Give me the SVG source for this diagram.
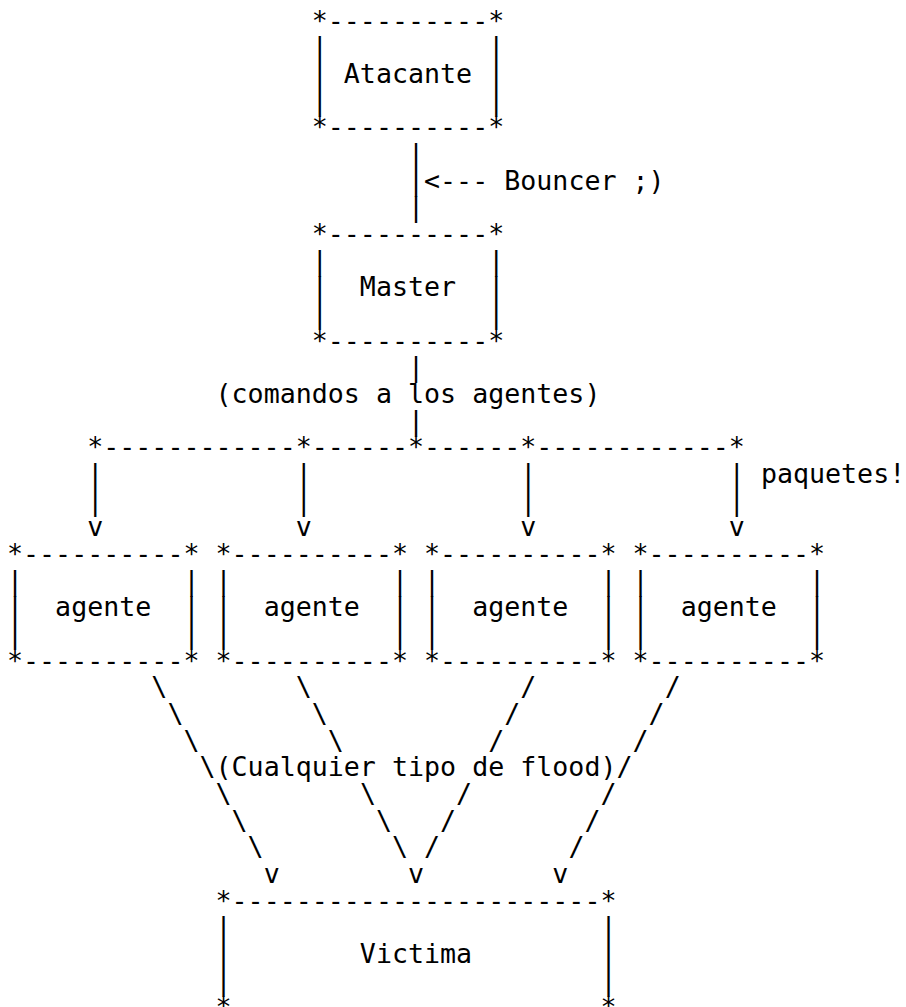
<svg xmlns="http://www.w3.org/2000/svg" width="906" height="1007" viewBox="0 0 906 1007" xml:space="preserve">
<style>
text { font-family: "DejaVu Sans Mono", "Liberation Mono", monospace; font-size: 26.65px; fill: #000; white-space: pre; }
</style>
<rect x="0" y="0" width="906" height="1007" fill="#fff"/>
<g id="atacante">
<text x="311.76" y="29.67">*----------*</text>
<text x="311.76" y="56.34">|          |</text>
<text x="311.76" y="83.01">| Atacante |</text>
<text x="311.76" y="109.68">|          |</text>
<text x="311.76" y="136.35">*----------*</text>
</g>
<g id="master">
<text x="311.76" y="243.03">*----------*</text>
<text x="311.76" y="269.7">|          |</text>
<text x="311.76" y="296.37">|  Master  |</text>
<text x="311.76" y="323.04">|          |</text>
<text x="311.76" y="349.71">*----------*</text>
</g>
<g id="agente1">
<text x="7" y="563.07">*----------*</text>
<text x="7" y="589.74">|          |</text>
<text x="7" y="616.41">|  agente  |</text>
<text x="7" y="643.08">|          |</text>
<text x="7" y="669.75">*----------*</text>
</g>
<g id="agente2">
<text x="215.52" y="563.07">*----------*</text>
<text x="215.52" y="589.74">|          |</text>
<text x="215.52" y="616.41">|  agente  |</text>
<text x="215.52" y="643.08">|          |</text>
<text x="215.52" y="669.75">*----------*</text>
</g>
<g id="agente3">
<text x="424.04" y="563.07">*----------*</text>
<text x="424.04" y="589.74">|          |</text>
<text x="424.04" y="616.41">|  agente  |</text>
<text x="424.04" y="643.08">|          |</text>
<text x="424.04" y="669.75">*----------*</text>
</g>
<g id="agente4">
<text x="632.56" y="563.07">*----------*</text>
<text x="632.56" y="589.74">|          |</text>
<text x="632.56" y="616.41">|  agente  |</text>
<text x="632.56" y="643.08">|          |</text>
<text x="632.56" y="669.75">*----------*</text>
</g>
<g id="victima">
<text x="215.52" y="909.78">*-----------------------*</text>
<text x="215.52" y="936.45">|                       |</text>
<text x="215.52" y="963.12">|        Victima        |</text>
<text x="215.52" y="989.79">|                       |</text>
<text x="215.52" y="1016.46">*-----------------------*</text>
</g>
<g id="connectors">
<g id="atacante-master">
<text><tspan x="408" y="163.02">|</tspan><tspan x="408" y="189.69">|</tspan><tspan x="408" y="216.36">|</tspan></text>
<text x="424.04" y="189.69">&lt;--- Bouncer ;)</text>
</g>
<g id="master-bus">
<text><tspan x="408" y="376.38">|</tspan><tspan x="408" y="429.72">|</tspan></text>
<text x="215.52" y="403.05">(comandos a los agentes)</text>
<text x="87.2" y="456.39">*------------*------*------*------------*</text>
</g>
<g id="bus-agentes">
<text><tspan x="87.2" y="483.06">|</tspan><tspan x="87.2" y="509.73">|</tspan><tspan x="87.2" y="536.4">v</tspan></text>
<text><tspan x="295.72" y="483.06">|</tspan><tspan x="295.72" y="509.73">|</tspan><tspan x="295.72" y="536.4">v</tspan></text>
<text><tspan x="520.28" y="483.06">|</tspan><tspan x="520.28" y="509.73">|</tspan><tspan x="520.28" y="536.4">v</tspan></text>
<text><tspan x="728.8" y="483.06">|</tspan><tspan x="728.8" y="509.73">|</tspan><tspan x="728.8" y="536.4">v</tspan></text>
<text x="760.88" y="483.06">paquetes!</text>
</g>
<g id="agentes-victima">
<text><tspan x="151.36" y="696.42">\</tspan><tspan x="167.4" y="723.09">\</tspan><tspan x="183.44" y="749.76">\</tspan><tspan x="199.48" y="776.43">\</tspan><tspan x="215.52" y="803.1">\</tspan><tspan x="231.56" y="829.77">\</tspan><tspan x="247.6" y="856.44">\</tspan><tspan x="263.64" y="883.11">v</tspan></text>
<text><tspan x="295.72" y="696.42">\</tspan><tspan x="311.76" y="723.09">\</tspan><tspan x="327.8" y="749.76">\</tspan><tspan x="359.88" y="803.1">\</tspan><tspan x="375.92" y="829.77">\</tspan><tspan x="391.96" y="856.44">\</tspan><tspan x="408" y="883.11">v</tspan></text>
<text><tspan x="520.28" y="696.42">/</tspan><tspan x="504.24" y="723.09">/</tspan><tspan x="488.2" y="749.76">/</tspan><tspan x="456.12" y="803.1">/</tspan><tspan x="440.08" y="829.77">/</tspan><tspan x="424.04" y="856.44">/</tspan></text>
<text><tspan x="664.64" y="696.42">/</tspan><tspan x="648.6" y="723.09">/</tspan><tspan x="632.56" y="749.76">/</tspan><tspan x="616.52" y="776.43">/</tspan><tspan x="600.48" y="803.1">/</tspan><tspan x="584.44" y="829.77">/</tspan><tspan x="568.4" y="856.44">/</tspan><tspan x="552.36" y="883.11">v</tspan></text>
<text x="215.52" y="776.43">(Cualquier tipo de flood)</text>
</g>
</g>
</svg>
